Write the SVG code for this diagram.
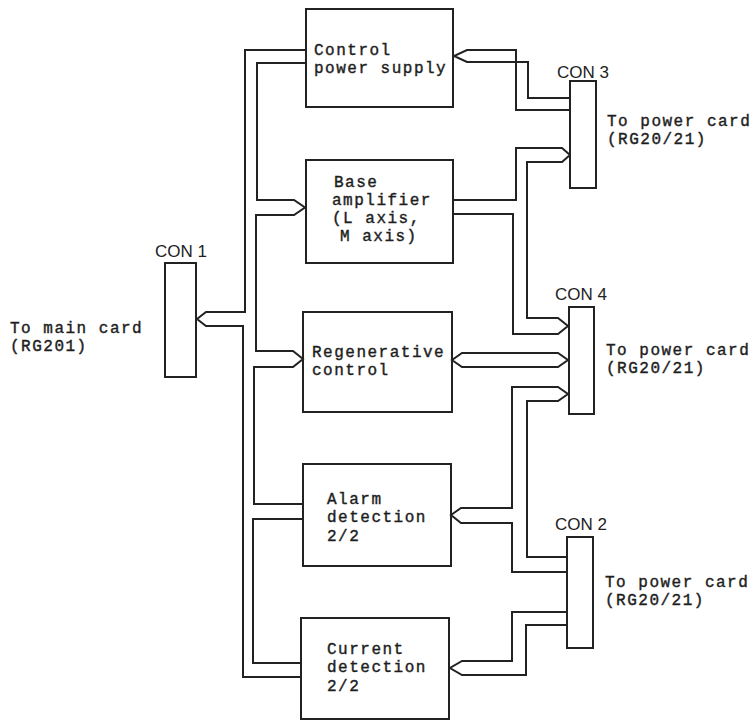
<svg xmlns="http://www.w3.org/2000/svg" width="756" height="721" viewBox="0 0 756 721">
<style>
.box{fill:none;stroke:#222;stroke-width:2}
.con{fill:#fff;stroke:#222;stroke-width:2}
.wire{fill:none;stroke:#222;stroke-width:2;stroke-linejoin:miter}
.t{font-family:"Liberation Mono","Courier New",monospace;font-size:16px;letter-spacing:1.5px;fill:#1e1e1e;stroke:#1e1e1e;stroke-width:0.4}
.c{font-family:"Liberation Sans",Arial,sans-serif;font-size:17px;fill:#222}
</style>
<rect x="0" y="0" width="756" height="721" fill="#fff"/>
<g id="connectors">
<path class="wire" d="M306,50 H245 V312 H206 L197,319 L206,326 H243 V677 H301"/>
<path class="wire" d="M306,63 H257 V200 H294 L305,207.5 L294,215 H256 V351 H293 L303,359 L293,367 H254 V504 H303"/>
<path class="wire" d="M303,519 H253 V663 H301"/>
<path class="wire" d="M570,110 H516 V50 H467 L454,56 L467,62 H528 V98 H570"/>
<path class="wire" d="M453,200 H516 V148 H562 L570,155 L562,162 H527 V318 H558 L568,326 L558,334 H513 V214 H453"/>
<path class="wire" d="M452,360 L462,353 H558 L568,360 L558,367 H462 Z"/>
<path class="wire" d="M567,557 H527 V401 H558 L568,394 L558,387 H512 V508 H461 L451,515 L461,523 H512 V572 H567"/>
<path class="wire" d="M566,612 H512 V661 H462 L450,668 L462,675 H526 V625 H566"/>
</g>
<g id="control-power-supply">
<rect class="box" x="306" y="9" width="147" height="98"/>
<text class="t" x="314" y="55">Control</text>
<text class="t" x="314" y="73">power supply</text>
</g>
<g id="base-amplifier">
<rect class="box" x="306" y="160" width="147" height="103"/>
<text class="t" x="334" y="187">Base</text>
<text class="t" x="332" y="205">amplifier</text>
<text class="t" x="332" y="223">(L axis,</text>
<text class="t" x="340" y="241">M axis)</text>
</g>
<g id="regenerative-control">
<rect class="box" x="303" y="312" width="149" height="100"/>
<text class="t" x="312" y="357">Regenerative</text>
<text class="t" x="312" y="375">control</text>
</g>
<g id="alarm-detection">
<rect class="box" x="303" y="464" width="148" height="102"/>
<text class="t" x="327" y="504">Alarm</text>
<text class="t" x="327" y="522">detection</text>
<text class="t" x="327" y="541">2/2</text>
</g>
<g id="current-detection">
<rect class="box" x="301" y="618" width="148" height="101"/>
<text class="t" x="327" y="654">Current</text>
<text class="t" x="327" y="672">detection</text>
<text class="t" x="327" y="691">2/2</text>
</g>
<g id="con1">
<rect class="con" x="165" y="263" width="31" height="114"/>
<text class="c" x="155" y="257">CON 1</text>
<text class="t" x="10" y="333">To main card</text>
<text class="t" x="10" y="351">(RG201)</text>
</g>
<g id="con3">
<rect class="con" x="570" y="81" width="26" height="107"/>
<text class="c" x="557" y="78">CON 3</text>
<text class="t" x="607" y="126">To power card</text>
<text class="t" x="607" y="144">(RG20/21)</text>
</g>
<g id="con4">
<rect class="con" x="569" y="307" width="25" height="107"/>
<text class="c" x="555" y="300">CON 4</text>
<text class="t" x="606" y="355">To power card</text>
<text class="t" x="606" y="373">(RG20/21)</text>
</g>
<g id="con2">
<rect class="con" x="567" y="537" width="26" height="111"/>
<text class="c" x="555" y="530">CON 2</text>
<text class="t" x="605" y="587">To power card</text>
<text class="t" x="605" y="605">(RG20/21)</text>
</g>
</svg>
